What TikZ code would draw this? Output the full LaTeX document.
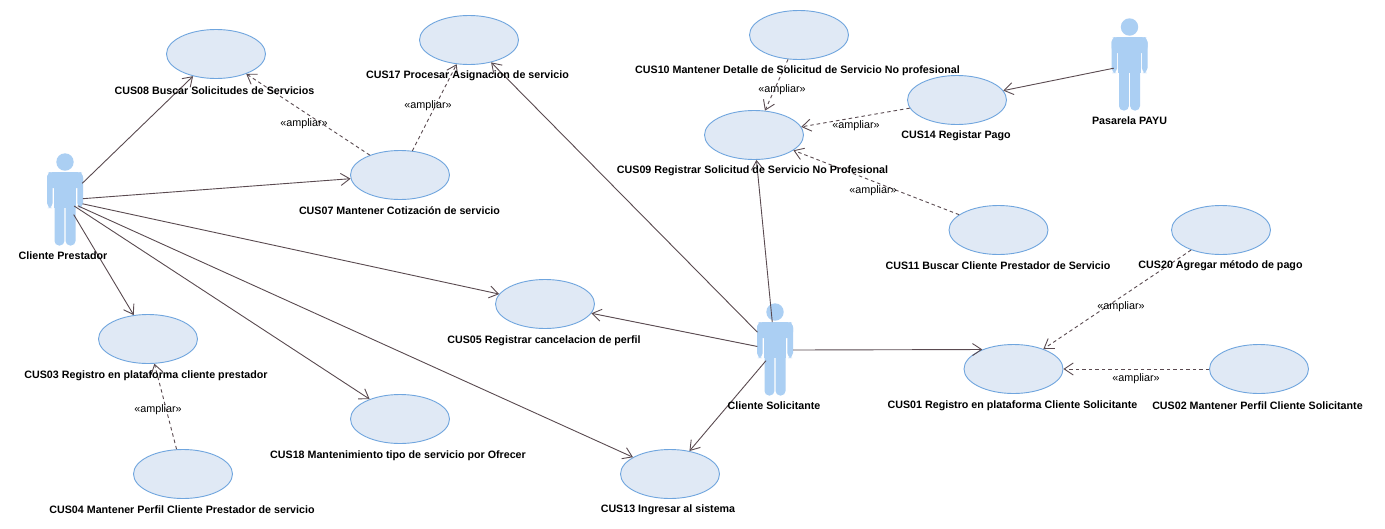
\documentclass[tikz,border=0pt]{standalone}
\usepackage{fontspec}
\setmainfont{Liberation Sans}
\usetikzlibrary{arrows.meta,shapes.geometric}
\definecolor{ucfill}{HTML}{E0E9F5}
\definecolor{ucline}{HTML}{6FA5DE}
\definecolor{actorblue}{HTML}{ABCFF3}
\definecolor{conn}{HTML}{5A4A50}
\tikzset{
  uc/.style={ellipse,draw=ucline,fill=ucfill,line width=0.9pt,minimum width=99pt,minimum height=49pt,inner sep=0pt},
  lbl/.style={font=\fontsize{10.7}{12}\bfseries\selectfont,inner sep=0pt,text=black,yshift=-1pt},
  ster/.style={font=\fontsize{10.8}{12}\selectfont,inner sep=0pt,text=black,yshift=-1pt},
  actorbox/.style={rectangle,minimum width=36pt,minimum height=91pt,inner sep=0pt},
  assoc/.style={conn,line width=0.9pt,-{Straight Barb[length=9pt,width=12pt,line width=0.9pt]}},
  ext/.style={conn,line width=0.9pt,dash pattern=on 3.5pt off 3pt,-{Straight Barb[length=9pt,width=12pt,line width=0.9pt,sep=0pt]}},
  actorfig/.pic={
    \fill[actorblue] (0,-38) circle (8.7pt);
    \fill[actorblue,rounded corners=5pt] (-18,-28) rectangle (-12.3,8);
    \fill[actorblue,rounded corners=5pt] (12.3,-28) rectangle (18,8);
    \fill[actorblue,rounded corners=6pt] (-18,-28) rectangle (18,-12);
    \fill[actorblue] (-11.2,-22) rectangle (11.2,8);
    \fill[actorblue,rounded corners=4.5pt] (-10.5,0) rectangle (-0.6,45.5);
    \fill[actorblue,rounded corners=4.5pt] (0.6,0) rectangle (10.5,45.5);
  }
}
\begin{document}
\begin{tikzpicture}[x=1pt,y=-1pt]
\useasboundingbox (0,0) rectangle (1385,528);
\fill[white] (0,0) rectangle (1385,528);
% actors
\pic at (65,200) {actorfig};
\pic at (775,350) {actorfig};
\pic at (1129.5,65) {actorfig};
\node[actorbox] (cp) at (65,200) {};
\node[actorbox] (cs) at (775,350) {};
\node[actorbox] (pp) at (1129.5,65) {};
% use cases
\node[uc] (uc08) at (216,54) {};
\node[uc] (uc17) at (469,40) {};
\node[uc] (uc10) at (799,35) {};
\node[uc] (uc14) at (957,100) {};
\node[uc] (uc09) at (754,135) {};
\node[uc] (uc07) at (400,175) {};
\node[uc] (uc11) at (998.5,230) {};
\node[uc] (uc20) at (1221,230) {};
\node[uc] (uc05) at (545,304) {};
\node[uc] (uc03) at (148,339) {};
\node[uc] (uc01) at (1013.5,369) {};
\node[uc] (uc02) at (1259,369) {};
\node[uc] (uc18) at (400,419) {};
\node[uc] (uc04) at (183,474) {};
\node[uc] (uc13) at (670,474) {};
% associations
\draw[assoc,shorten <=24pt] (cp.center) -- (uc08);
\draw[assoc,shorten <=18pt] (cp.center) -- (uc07);
\draw[assoc,shorten <=18pt] (cp.center) -- (uc05);
\draw[assoc,shorten <=17pt] (cp.center) -- (uc03);
\draw[assoc,shorten <=11pt] (cp.center) -- (uc18);
\draw[assoc,shorten <=14pt] (cp.center) -- (uc13);
\draw[assoc,shorten <=25pt] (cs.center) -- (uc17);
\draw[assoc,shorten <=18pt] (cs.center) -- (uc05);
\draw[assoc,shorten <=28pt] (cs.center) -- (uc09);
\draw[assoc,shorten <=14pt] (cs.center) -- (uc13);
\draw[assoc] (cs.east) -- (uc01.148);
\draw[assoc,shorten <=16pt] (pp.center) -- (uc14);
% extends
\draw[ext] (uc07) -- (uc08);
\draw[ext] (uc07) -- (uc17);
\draw[ext] (uc10) -- (uc09);
\draw[ext] (uc14) -- (uc09);
\draw[ext] (uc11) -- (uc09);
\draw[ext] (uc20) -- (uc01);
\draw[ext] (uc02) -- (uc01);
\draw[ext] (uc04) -- (uc03);
% labels
\node[lbl] (l08) at (214.5,90) {CUS08 Buscar Solicitudes de Servicios};
\node[lbl] (l17) at (467.5,75) {CUS17 Procesar Asignacion de servicio};
\node[lbl] (l10) at (797.5,70) {CUS10 Mantener Detalle de Solicitud de Servicio No profesional};
\node[lbl] (l14) at (956,135) {CUS14 Registar Pago};
\node[lbl] (l09) at (752.5,170) {CUS09 Registrar Solicitud de Servicio No Profesional};
\node[lbl] (l07) at (399.5,210) {CUS07 Mantener Cotización de servicio};
\node[lbl] (l11) at (998,265) {CUS11 Buscar Cliente Prestador de Servicio};
\node[lbl] (l20) at (1220.5,265) {CUS20 Agregar método de pago};
\node[lbl] (l05) at (544,340) {CUS05 Registrar cancelacion de perfil};
\node[lbl] (l03) at (146,375) {CUS03 Registro en plataforma cliente prestador};
\node[lbl] (l01) at (1012.5,405) {CUS01 Registro en plataforma Cliente Solicitante};
\node[lbl] (l02) at (1257.5,405) {CUS02 Mantener Perfil Cliente Solicitante};
\node[lbl] (l18) at (398,455) {CUS18 Mantenimiento tipo de servicio por Ofrecer};
\node[lbl] (l04) at (182,509) {CUS04 Mantener Perfil Cliente Prestador de servicio};
\node[lbl] (l13) at (668,509) {CUS13 Ingresar al sistema};
\node[lbl] (lcp) at (63,255) {Cliente Prestador};
\node[lbl] (lcs) at (774,405) {Cliente Solicitante};
\node[lbl] (lpp) at (1129.5,120) {Pasarela PAYU};
% stereotypes
\node[ster] (s1) at (304,123) {«ampliar»};
\node[ster] (s2) at (428,105) {«ampliar»};
\node[ster] (s3) at (782,89) {«ampliar»};
\node[ster] (s4) at (856,125) {«ampliar»};
\node[ster] (s5) at (873,190) {«ampliar»};
\node[ster] (s6) at (1121,306) {«ampliar»};
\node[ster] (s7) at (1136,378) {«ampliar»};
\node[ster] (s8) at (158,409) {«ampliar»};
\end{tikzpicture}
\end{document}
